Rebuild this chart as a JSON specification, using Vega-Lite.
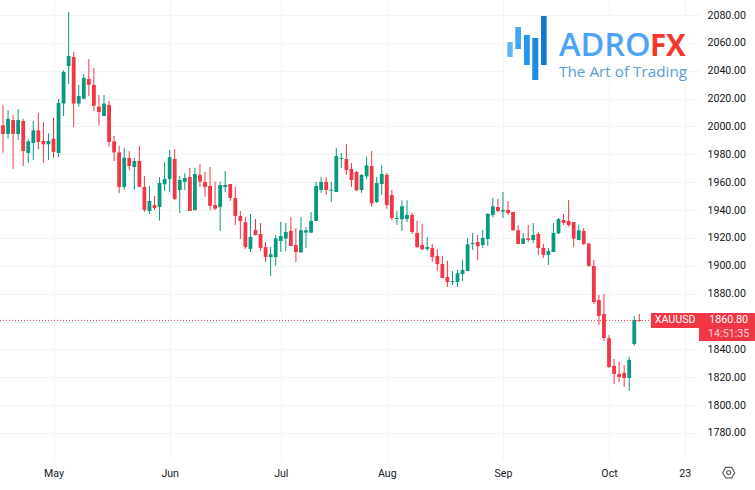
{"$schema":"https://vega.github.io/schema/vega-lite/v6.json","width":699,"height":460,"autosize":"none","padding":{"left":0,"top":0,"right":56,"bottom":30},"background":"white","config":{"view":{"stroke":null},"axis":{"labelOverlap":false,"labelBound":false}},
"datasets":{"candles":[
{"i":-1,"h":2039.8,"o":2039.8,"c":2004.2,"l":2004.2,"d":"down"},
{"i":0,"h":2015.4,"o":2000.8,"c":1994.6,"l":1981.2,"d":"down"},
{"i":1,"h":2011.8,"o":1994.6,"c":2005.4,"l":1991.2,"d":"up"},
{"i":2,"h":2008.2,"o":2004.6,"c":1994.6,"l":1969.5,"d":"down"},
{"i":3,"h":2012.5,"o":1994.6,"c":2004.6,"l":1990.3,"d":"up"},
{"i":4,"h":2005.4,"o":2003.9,"c":1982.4,"l":1971.6,"d":"down"},
{"i":5,"h":1990.8,"o":1981,"c":1989.3,"l":1973.8,"d":"up"},
{"i":6,"h":2003.9,"o":1988.1,"c":1997.2,"l":1975.9,"d":"up"},
{"i":7,"h":2009.7,"o":1997.2,"c":1988.9,"l":1983.6,"d":"down"},
{"i":8,"h":2003.2,"o":1989.6,"c":1987.2,"l":1973.8,"d":"down"},
{"i":9,"h":1995.1,"o":1987.2,"c":1989.6,"l":1975.9,"d":"up"},
{"i":10,"h":2006.1,"o":1991.2,"c":1981.7,"l":1977.4,"d":"down"},
{"i":11,"h":2019.7,"o":1981,"c":2016.8,"l":1978.1,"d":"up"},
{"i":12,"h":2040.3,"o":2016.4,"c":2039.1,"l":2007.5,"d":"up"},
{"i":13,"h":2082.2,"o":2043.4,"c":2050.6,"l":2030.5,"d":"up"},
{"i":14,"h":2053.5,"o":2049.9,"c":2016.4,"l":1999.6,"d":"down"},
{"i":15,"h":2029.8,"o":2016.4,"c":2021.9,"l":2014.2,"d":"up"},
{"i":16,"h":2037.7,"o":2020,"c":2034.8,"l":2019.5,"d":"up"},
{"i":17,"h":2048.4,"o":2034.1,"c":2030,"l":2021.9,"d":"down"},
{"i":18,"h":2042,"o":2029.8,"c":2014.9,"l":2011.1,"d":"down"},
{"i":19,"h":2022.6,"o":2014.2,"c":2010.4,"l":2000.6,"d":"down"},
{"i":20,"h":2022.6,"o":2007.5,"c":2016.4,"l":2007.5,"d":"up"},
{"i":21,"h":2018.3,"o":2015.4,"c":1988.9,"l":1985.3,"d":"down"},
{"i":22,"h":1993.2,"o":1989.3,"c":1981.4,"l":1975.2,"d":"down"},
{"i":23,"h":1986,"o":1981.4,"c":1956.6,"l":1952.2,"d":"down"},
{"i":24,"h":1984.5,"o":1956.6,"c":1977.6,"l":1954.4,"d":"up"},
{"i":25,"h":1982.4,"o":1977.4,"c":1971.6,"l":1968.8,"d":"down"},
{"i":26,"h":1977.4,"o":1970.9,"c":1975.2,"l":1954.4,"d":"up"},
{"i":27,"h":1986,"o":1975.2,"c":1956.6,"l":1956.6,"d":"down"},
{"i":28,"h":1964.5,"o":1956.6,"c":1940,"l":1938.6,"d":"down"},
{"i":29,"h":1957.3,"o":1939.3,"c":1946.5,"l":1937.2,"d":"up"},
{"i":30,"h":1950.1,"o":1943.6,"c":1941.5,"l":1940,"d":"down"},
{"i":31,"h":1963.7,"o":1942.2,"c":1959.4,"l":1932.4,"d":"up"},
{"i":32,"h":1974.5,"o":1958.5,"c":1962.3,"l":1953.9,"d":"up"},
{"i":33,"h":1983.1,"o":1962.3,"c":1977.9,"l":1953,"d":"up"},
{"i":34,"h":1983.8,"o":1976.7,"c":1948,"l":1947.2,"d":"down"},
{"i":35,"h":1964.5,"o":1954.4,"c":1961.6,"l":1937.9,"d":"up"},
{"i":36,"h":1966.4,"o":1960.2,"c":1963,"l":1954.4,"d":"up"},
{"i":37,"h":1970.4,"o":1963.7,"c":1939.3,"l":1939.3,"d":"down"},
{"i":38,"h":1970.4,"o":1940,"c":1965.9,"l":1939.6,"d":"up"},
{"i":39,"h":1973,"o":1965.2,"c":1960.4,"l":1956.6,"d":"down"},
{"i":40,"h":1967.3,"o":1960.2,"c":1956.6,"l":1949.4,"d":"down"},
{"i":41,"h":1970.9,"o":1957.3,"c":1943,"l":1940,"d":"down"},
{"i":42,"h":1960.4,"o":1943.6,"c":1941,"l":1940,"d":"down"},
{"i":43,"h":1960.4,"o":1942.2,"c":1958,"l":1925,"d":"up"},
{"i":44,"h":1968,"o":1956.6,"c":1958,"l":1953,"d":"up"},
{"i":45,"h":1958.7,"o":1958.7,"c":1948.7,"l":1946.5,"d":"down"},
{"i":46,"h":1956.6,"o":1948.7,"c":1935.8,"l":1929.3,"d":"down"},
{"i":47,"h":1939.3,"o":1935.8,"c":1932.2,"l":1919.2,"d":"down"},
{"i":48,"h":1935,"o":1931.2,"c":1913.5,"l":1912.1,"d":"down"},
{"i":49,"h":1937.2,"o":1912.1,"c":1920.7,"l":1909.9,"d":"up"},
{"i":50,"h":1933.6,"o":1925.7,"c":1922.1,"l":1921.9,"d":"down"},
{"i":51,"h":1930.7,"o":1922.8,"c":1912.8,"l":1910.6,"d":"down"},
{"i":52,"h":1917.1,"o":1913.5,"c":1906.3,"l":1902.7,"d":"down"},
{"i":53,"h":1913.5,"o":1906.3,"c":1908.3,"l":1892.7,"d":"up"},
{"i":54,"h":1922.1,"o":1906.3,"c":1919.7,"l":1899.9,"d":"up"},
{"i":55,"h":1931.4,"o":1917.8,"c":1921.4,"l":1909.9,"d":"up"},
{"i":56,"h":1930.7,"o":1919.5,"c":1924.3,"l":1910.4,"d":"up"},
{"i":57,"h":1935,"o":1925,"c":1914.2,"l":1914.2,"d":"down"},
{"i":58,"h":1927.1,"o":1914.9,"c":1909.9,"l":1902.7,"d":"down"},
{"i":59,"h":1935,"o":1909.7,"c":1925.5,"l":1909.2,"d":"up"},
{"i":60,"h":1927.8,"o":1923.8,"c":1925.5,"l":1912.8,"d":"up"},
{"i":61,"h":1938.6,"o":1923.8,"c":1932.2,"l":1923.5,"d":"up"},
{"i":62,"h":1960.2,"o":1932.2,"c":1957.3,"l":1932.2,"d":"up"},
{"i":63,"h":1963.7,"o":1954.4,"c":1960.2,"l":1952.3,"d":"up"},
{"i":64,"h":1963.7,"o":1960.2,"c":1954.4,"l":1950.8,"d":"down"},
{"i":65,"h":1960.2,"o":1953.9,"c":1954.6,"l":1945.8,"d":"up"},
{"i":66,"h":1984.5,"o":1953,"c":1978.8,"l":1953,"d":"up"},
{"i":67,"h":1981,"o":1976.7,"c":1977.4,"l":1970.2,"d":"up"},
{"i":68,"h":1987.4,"o":1976.7,"c":1968.8,"l":1965.2,"d":"down"},
{"i":69,"h":1973.8,"o":1969.5,"c":1961.6,"l":1956.6,"d":"down"},
{"i":70,"h":1968,"o":1967.3,"c":1954.2,"l":1953.7,"d":"down"},
{"i":71,"h":1965.9,"o":1954.4,"c":1965.2,"l":1952.3,"d":"up"},
{"i":72,"h":1978.1,"o":1964.2,"c":1972.1,"l":1962.3,"d":"up"},
{"i":73,"h":1982.4,"o":1971.6,"c":1944.8,"l":1942.4,"d":"down"},
{"i":74,"h":1963.7,"o":1945.8,"c":1959.4,"l":1945.1,"d":"up"},
{"i":75,"h":1972.3,"o":1958.7,"c":1965.9,"l":1950.8,"d":"up"},
{"i":76,"h":1966.6,"o":1965.2,"c":1943.6,"l":1941,"d":"down"},
{"i":77,"h":1954.4,"o":1950.8,"c":1934.3,"l":1932.9,"d":"down"},
{"i":78,"h":1939.1,"o":1933.6,"c":1934.3,"l":1929.3,"d":"up"},
{"i":79,"h":1947,"o":1933.4,"c":1942.7,"l":1925,"d":"up"},
{"i":80,"h":1947,"o":1933.6,"c":1936.5,"l":1931.4,"d":"up"},
{"i":81,"h":1937.9,"o":1936.5,"c":1924.3,"l":1922.8,"d":"down"},
{"i":82,"h":1932.2,"o":1923.5,"c":1913.5,"l":1912.8,"d":"down"},
{"i":83,"h":1930,"o":1914.9,"c":1911.8,"l":1911.4,"d":"down"},
{"i":84,"h":1920.7,"o":1912.1,"c":1913.5,"l":1910.6,"d":"up"},
{"i":85,"h":1915.6,"o":1912.8,"c":1906.3,"l":1902.7,"d":"down"},
{"i":86,"h":1911.8,"o":1907,"c":1901.3,"l":1896.3,"d":"down"},
{"i":87,"h":1907,"o":1901.3,"c":1891.2,"l":1891.2,"d":"down"},
{"i":88,"h":1903.5,"o":1892,"c":1888.4,"l":1884.8,"d":"down"},
{"i":89,"h":1896.3,"o":1888.4,"c":1889.1,"l":1886.2,"d":"up"},
{"i":90,"h":1897,"o":1888.4,"c":1894.6,"l":1884.6,"d":"up"},
{"i":91,"h":1904.2,"o":1894.1,"c":1897,"l":1889.1,"d":"up"},
{"i":92,"h":1920,"o":1896.3,"c":1915.4,"l":1896.3,"d":"up"},
{"i":93,"h":1923.5,"o":1915.6,"c":1916.4,"l":1911.4,"d":"up"},
{"i":94,"h":1922.1,"o":1917.1,"c":1914,"l":1903.9,"d":"down"},
{"i":95,"h":1925.7,"o":1914.9,"c":1920,"l":1912.8,"d":"up"},
{"i":96,"h":1937.9,"o":1919.2,"c":1937.2,"l":1914.2,"d":"up"},
{"i":97,"h":1948.7,"o":1936.5,"c":1942.7,"l":1934.8,"d":"up"},
{"i":98,"h":1948,"o":1942.2,"c":1939.3,"l":1938.6,"d":"down"},
{"i":99,"h":1953,"o":1938.9,"c":1940.1,"l":1934.3,"d":"up"},
{"i":100,"h":1946.5,"o":1940.1,"c":1937.9,"l":1936.5,"d":"down"},
{"i":101,"h":1938.6,"o":1938.6,"c":1925.5,"l":1925,"d":"down"},
{"i":102,"h":1929.3,"o":1925.5,"c":1915.7,"l":1915.7,"d":"down"},
{"i":103,"h":1923.6,"o":1915.7,"c":1919.7,"l":1915.7,"d":"up"},
{"i":104,"h":1929.3,"o":1919.7,"c":1918.5,"l":1917.1,"d":"down"},
{"i":105,"h":1930.7,"o":1918.5,"c":1922.1,"l":1916.4,"d":"up"},
{"i":106,"h":1924.3,"o":1922.8,"c":1912.8,"l":1907.8,"d":"down"},
{"i":107,"h":1915.7,"o":1912.8,"c":1907.8,"l":1905.6,"d":"down"},
{"i":108,"h":1912.8,"o":1907.8,"c":1910.6,"l":1900.6,"d":"up"},
{"i":109,"h":1930.7,"o":1909.9,"c":1923.6,"l":1909.9,"d":"up"},
{"i":110,"h":1934.1,"o":1923.3,"c":1933.6,"l":1922.8,"d":"up"},
{"i":111,"h":1937.2,"o":1932.9,"c":1930.7,"l":1929.3,"d":"down"},
{"i":112,"h":1947.2,"o":1932.2,"c":1929.3,"l":1928.1,"d":"down"},
{"i":113,"h":1931.4,"o":1931.4,"c":1919.5,"l":1913.5,"d":"down"},
{"i":114,"h":1929.3,"o":1918.5,"c":1925.5,"l":1918.5,"d":"up"},
{"i":115,"h":1927.1,"o":1925,"c":1915.7,"l":1914.9,"d":"down"},
{"i":116,"h":1916.4,"o":1915.9,"c":1899.9,"l":1899.2,"d":"down"},
{"i":117,"h":1904.2,"o":1899.9,"c":1874,"l":1872.6,"d":"down"},
{"i":118,"h":1879.1,"o":1875.5,"c":1864,"l":1857.5,"d":"down"},
{"i":119,"h":1879.8,"o":1865.4,"c":1848.2,"l":1846,"d":"down"},
{"i":120,"h":1850.3,"o":1848,"c":1827.4,"l":1826.7,"d":"down"},
{"i":121,"h":1833.1,"o":1828.1,"c":1822.4,"l":1815.2,"d":"down"},
{"i":122,"h":1831,"o":1822.4,"c":1820.2,"l":1816.6,"d":"down"},
{"i":123,"h":1828.8,"o":1823.1,"c":1819.5,"l":1813,"d":"down"},
{"i":124,"h":1834.6,"o":1819.5,"c":1832.4,"l":1810.2,"d":"up"},
{"i":125,"h":1864,"o":1843.9,"c":1861.1,"l":1842.5,"d":"up"},
{"i":126,"h":1865.4,"o":1861.1,"c":1860.4,"l":1859.7,"d":"down"}
]},
"layer":[
{"data":{"values":[{"a":99.4,"b":135.4,"t":2079.3,"u":2031.2}]},"mark":{"type":"rect","fill":"white"},
"encoding":{"x":{"field":"a","type":"quantitative","title":null,"scale":{"domain":[-0.594,137.82],"nice":false,"zero":false,"padding":0},
"axis":{"values":[10,33,55,76,99,120,135],"labelExpr":"{10:'May',33:'Jun',55:'Jul',76:'Aug',99:'Sep',120:'Oct',135:'23'}[datum.value]","grid":true,"gridColor":"#f3f4f6","gridWidth":1,"ticks":false,"domain":false,"labelFont":"Roboto","labelFontSize":10.6,"labelColor":"#131722","labelPadding":8,"labelFlush":false,"labelOverlap":false}},
"x2":{"field":"b"},
"y":{"field":"t","type":"quantitative","title":null,"scale":{"domain":[1760.6,2090.77],"nice":false,"zero":false,"padding":0},
"axis":{"orient":"right","tickCount":40,"values":[1780,1800,1820,1840,1860,1880,1900,1920,1940,1960,1980,2000,2020,2040,2060,2080],"format":".2f","grid":true,"gridColor":"#f3f4f6","gridWidth":1,"ticks":false,"domain":false,"labelFont":"Roboto","labelFontSize":10.6,"labelColor":"#131722","labelPadding":8,"labelOverlap":false}},
"y2":{"field":"u"}}},
{"data":{"name":"candles"},"mark":{"type":"rule","strokeWidth":1,"clip":true},"encoding":{"x":{"field":"i","type":"quantitative","title":null,"scale":{"domain":[-0.594,137.82],"nice":false,"zero":false,"padding":0}},"y":{"field":"l","type":"quantitative","title":null,"scale":{"domain":[1760.6,2090.77],"nice":false,"zero":false,"padding":0}},"y2":{"field":"h"},"color":{"field":"d","type":"nominal","legend":null,"scale":{"domain":["up","down"],"range":["#089981","#f23645"]}}}},
{"data":{"name":"candles"},"mark":{"type":"bar","size":3.8,"clip":true},"encoding":{"x":{"field":"i","type":"quantitative","title":null,"scale":{"domain":[-0.594,137.82],"nice":false,"zero":false,"padding":0}},"y":{"field":"o","type":"quantitative","title":null,"scale":{"domain":[1760.6,2090.77],"nice":false,"zero":false,"padding":0}},"y2":{"field":"c"},"color":{"field":"d","type":"nominal","legend":null}}},
{"data":{"values":[{"a":-0.594,"b":128.3,"p":1860.8}]},"mark":{"type":"rule","color":"#f23645","strokeWidth":1,"strokeDash":[1,2]},"encoding":{"x":{"field":"a","type":"quantitative","title":null,"scale":{"domain":[-0.594,137.82],"nice":false,"zero":false,"padding":0}},"x2":{"field":"b"},"y":{"field":"p","type":"quantitative","title":null,"scale":{"domain":[1760.6,2090.77],"nice":false,"zero":false,"padding":0}}}},
{"data":{"values":[{"a":99.86,"b":100.93,"t":2060.6,"u":2049.9,"k":"1"},{"a":101.44,"b":102.57,"t":2071.4,"u":2055.6,"k":"2"},{"a":103.17,"b":104.3,"t":2065.7,"u":2044.1,"k":"3"},{"a":104.81,"b":106,"t":2063.5,"u":2033.4,"k":"4"},{"a":106.53,"b":107.66,"t":2079.3,"u":2044.1,"k":"5"}]},"mark":{"type":"rect"},"encoding":{"x":{"field":"a","type":"quantitative","title":null,"scale":{"domain":[-0.594,137.82],"nice":false,"zero":false,"padding":0}},"x2":{"field":"b"},"y":{"field":"t","type":"quantitative","title":null,"scale":{"domain":[1760.6,2090.77],"nice":false,"zero":false,"padding":0}},"y2":{"field":"u"},"fill":{"field":"k","type":"nominal","legend":null,"scale":{"domain":["1","2","3","4","5"],"range":["#64b5f6","#42a5f5","#2196f3","#1e88e5","#1976d2"]}}}},
{"data":{"values":[{"a":128.3,"b":137.82,"t":1866.1,"u":1855.4},{"a":137.82,"b":148.9,"t":1866.1,"u":1846}]},"mark":{"type":"rect","fill":"#f23645","clip":false},"encoding":{"x":{"field":"a","type":"quantitative","title":null,"scale":{"domain":[-0.594,137.82],"nice":false,"zero":false,"padding":0}},"x2":{"field":"b"},"y":{"field":"t","type":"quantitative","title":null,"scale":{"domain":[1760.6,2090.77],"nice":false,"zero":false,"padding":0}},"y2":{"field":"u"}}},
{"data":{"values":[{"a":133.1,"p":1860.8,"s":"XAUUSD","o":1},{"a":143.7,"p":1861,"s":"1860.80","o":1},{"a":143.7,"p":1851,"s":"14:51:35","o":0.75}]},"mark":{"type":"text","font":"Roboto","fontSize":10.7,"color":"white","align":"center","baseline":"middle"},"encoding":{"x":{"field":"a","type":"quantitative","title":null,"scale":{"domain":[-0.594,137.82],"nice":false,"zero":false,"padding":0}},"y":{"field":"p","type":"quantitative","title":null,"scale":{"domain":[1760.6,2090.77],"nice":false,"zero":false,"padding":0}},"text":{"field":"s"},"opacity":{"field":"o","type":"quantitative","legend":null,"scale":null}}},
{"data":{"values":[{"a":110.1,"p":2050.6,"s":"ADRO"}]},"mark":{"type":"text","font":"Open Sans","fontSize":32.5,"fontWeight":600,"color":"#4da3f7","align":"left","baseline":"alphabetic"},"encoding":{"x":{"field":"a","type":"quantitative","title":null,"scale":{"domain":[-0.594,137.82],"nice":false,"zero":false,"padding":0}},"y":{"field":"p","type":"quantitative","title":null,"scale":{"domain":[1760.6,2090.77],"nice":false,"zero":false,"padding":0}},"text":{"field":"s"}}},
{"data":{"values":[{"a":128.1,"p":2050.6,"s":"FX"}]},"mark":{"type":"text","font":"Open Sans","fontSize":29.5,"fontWeight":700,"color":"#f4372d","align":"left","baseline":"alphabetic"},"encoding":{"x":{"field":"a","type":"quantitative","title":null,"scale":{"domain":[-0.594,137.82],"nice":false,"zero":false,"padding":0}},"y":{"field":"p","type":"quantitative","title":null,"scale":{"domain":[1760.6,2090.77],"nice":false,"zero":false,"padding":0}},"text":{"field":"s"}}},
{"data":{"values":[{"a":110.1,"p":2035.5,"s":"The Art of Trading"}]},"mark":{"type":"text","font":"Open Sans","fontSize":15.3,"color":"#5b9bd5","align":"left","baseline":"alphabetic"},"encoding":{"x":{"field":"a","type":"quantitative","title":null,"scale":{"domain":[-0.594,137.82],"nice":false,"zero":false,"padding":0}},"y":{"field":"p","type":"quantitative","title":null,"scale":{"domain":[1760.6,2090.77],"nice":false,"zero":false,"padding":0}},"text":{"field":"s"}}},
{"data":{"values":[{"a":143.7,"p":1751.5}]},"mark":{"type":"point","shape":"M-1,0L-0.5,-0.87L0.5,-0.87L1,0L0.5,0.87L-0.5,0.87Z","size":144,"filled":false,"stroke":"#131722","strokeWidth":1.2,"clip":false},"encoding":{"x":{"field":"a","type":"quantitative","title":null,"scale":{"domain":[-0.594,137.82],"nice":false,"zero":false,"padding":0}},"y":{"field":"p","type":"quantitative","title":null,"scale":{"domain":[1760.6,2090.77],"nice":false,"zero":false,"padding":0}}}},
{"data":{"values":[{"a":143.7,"p":1751.5}]},"mark":{"type":"point","shape":"circle","size":16,"filled":false,"stroke":"#131722","strokeWidth":1.2,"clip":false},"encoding":{"x":{"field":"a","type":"quantitative","title":null,"scale":{"domain":[-0.594,137.82],"nice":false,"zero":false,"padding":0}},"y":{"field":"p","type":"quantitative","title":null,"scale":{"domain":[1760.6,2090.77],"nice":false,"zero":false,"padding":0}}}}
]}
